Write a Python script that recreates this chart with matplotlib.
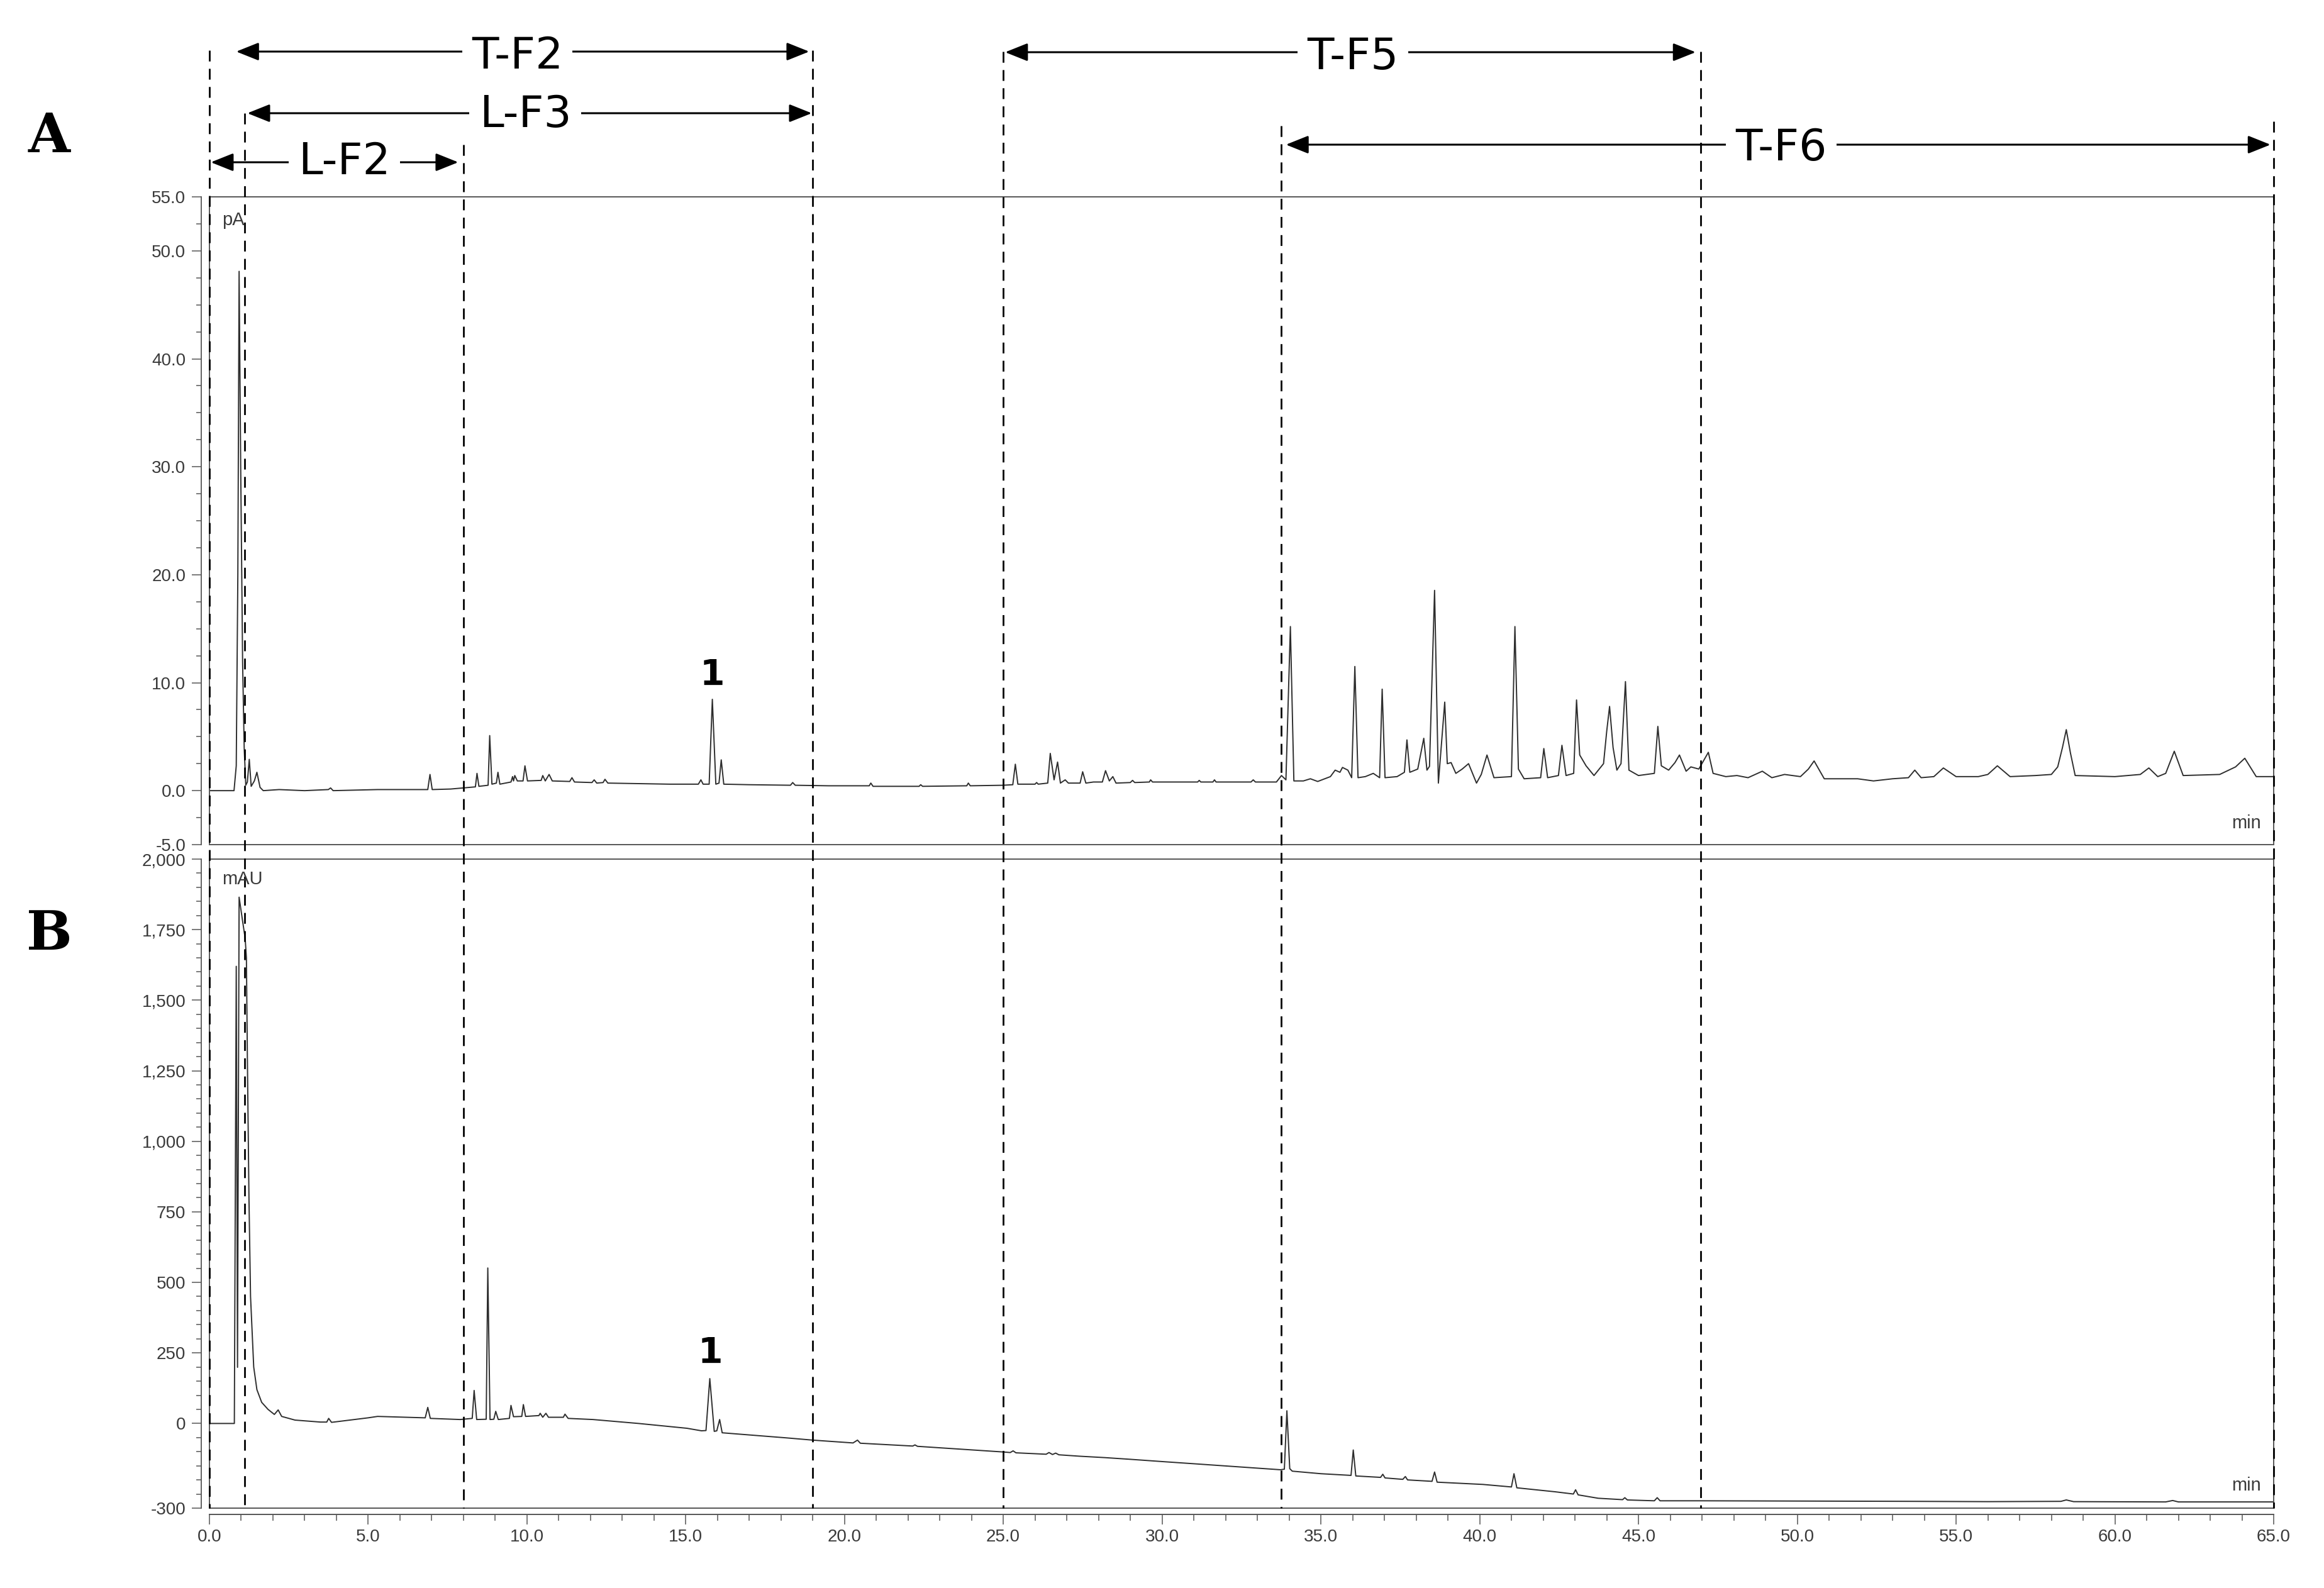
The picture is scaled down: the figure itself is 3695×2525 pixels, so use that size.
import matplotlib
matplotlib.use("Agg")
import matplotlib.pyplot as plt
from matplotlib import font_manager
from matplotlib.ticker import MultipleLocator, FixedLocator, FuncFormatter
from matplotlib.patches import Rectangle

# (retention time [min], response)
a_points = [
    (0.00, 0.0), (0.78, 0.0), (0.85, 2.3), (0.90, 20.0), (0.94, 48.1), (0.99, 30.0),
    (1.05, 11.9), (1.10, 4.0), (1.15, 0.5), (1.20, 0.8), (1.26, 2.9), (1.32, 0.4),
    (1.42, 0.9), (1.50, 1.7), (1.60, 0.3), (1.70, 0.0), (2.20, 0.1), (3.00, 0.0),
    (3.75, 0.1), (3.82, 0.25), (3.90, 0.0), (5.30, 0.1), (6.00, 0.1), (6.88, 0.1),
    (6.95, 1.5), (7.02, 0.1), (7.60, 0.15), (8.00, 0.25), (8.38, 0.35), (8.43, 1.6),
    (8.49, 0.4), (8.78, 0.5), (8.83, 5.1), (8.90, 0.6), (9.04, 0.7), (9.09, 1.7),
    (9.15, 0.6), (9.50, 0.8), (9.55, 1.3), (9.58, 0.9), (9.62, 1.4), (9.70, 0.9),
    (9.88, 0.9), (9.94, 2.3), (10.02, 0.9), (10.45, 0.95), (10.50, 1.4), (10.58, 0.9),
    (10.70, 1.5), (10.80, 0.9), (11.35, 0.85), (11.42, 1.2), (11.50, 0.8), (12.05, 0.75),
    (12.12, 1.0), (12.20, 0.7), (12.40, 0.75), (12.46, 1.05), (12.55, 0.7), (13.50, 0.65),
    (14.50, 0.6), (15.40, 0.6), (15.48, 1.0), (15.55, 0.6), (15.74, 0.6), (15.84, 8.46),
    (15.95, 0.6), (16.05, 0.7), (16.12, 2.85), (16.20, 0.6), (17.00, 0.55), (18.30, 0.5),
    (18.37, 0.75), (18.45, 0.5), (19.50, 0.45), (20.78, 0.45), (20.83, 0.7), (20.90, 0.4),
    (22.35, 0.4), (22.40, 0.55), (22.46, 0.4), (23.85, 0.45), (23.90, 0.7), (23.96, 0.45),
    (25.00, 0.5), (25.30, 0.55), (25.38, 2.45), (25.46, 0.6), (26.00, 0.6), (26.05, 0.75),
    (26.10, 0.6), (26.40, 0.7), (26.48, 3.45), (26.60, 1.0), (26.71, 2.65), (26.80, 0.7),
    (26.95, 1.0), (27.05, 0.7), (27.42, 0.7), (27.50, 1.75), (27.60, 0.7), (27.84, 0.8),
    (28.12, 0.8), (28.22, 1.85), (28.34, 0.9), (28.45, 1.3), (28.55, 0.7), (29.00, 0.75),
    (29.07, 0.95), (29.14, 0.75), (29.60, 0.8), (29.64, 1.0), (29.70, 0.8), (30.50, 0.8),
    (31.12, 0.8), (31.17, 0.95), (31.22, 0.8), (31.60, 0.8), (31.65, 1.0), (31.70, 0.8),
    (32.80, 0.8), (32.87, 1.0), (32.94, 0.8), (33.60, 0.8), (33.76, 1.4), (33.90, 1.0),
    (34.04, 15.2), (34.15, 0.9), (34.45, 0.9), (34.67, 1.1), (34.90, 0.85), (35.30, 1.3),
    (35.45, 1.9), (35.60, 1.7), (35.68, 2.15), (35.85, 1.9), (35.97, 1.2), (36.07, 11.5),
    (36.17, 1.2), (36.40, 1.3), (36.65, 1.6), (36.85, 1.2), (36.93, 9.4), (37.02, 1.2),
    (37.40, 1.3), (37.63, 1.7), (37.71, 4.7), (37.80, 1.7), (38.05, 2.0), (38.24, 4.85),
    (38.34, 1.9), (38.42, 2.25), (38.58, 18.55), (38.70, 0.7), (38.90, 8.2), (38.98, 2.5),
    (39.10, 2.6), (39.25, 1.6), (39.45, 2.0), (39.65, 2.5), (39.90, 0.7), (40.05, 1.5),
    (40.23, 3.3), (40.45, 1.2), (41.00, 1.3), (41.11, 15.2), (41.22, 2.0), (41.40, 1.1),
    (41.92, 1.2), (42.02, 3.9), (42.14, 1.2), (42.48, 1.4), (42.59, 4.2), (42.72, 1.4),
    (42.96, 1.6), (43.05, 8.4), (43.15, 3.3), (43.35, 2.3), (43.60, 1.4), (43.90, 2.5),
    (44.00, 5.5), (44.09, 7.8), (44.20, 4.0), (44.32, 1.9), (44.45, 2.5), (44.59, 10.1),
    (44.70, 1.9), (45.00, 1.4), (45.50, 1.6), (45.61, 5.95), (45.72, 2.3), (45.95, 1.9),
    (46.15, 2.6), (46.29, 3.3), (46.50, 1.8), (46.65, 2.2), (46.90, 2.0), (47.20, 3.55),
    (47.35, 1.6), (47.75, 1.3), (48.10, 1.4), (48.45, 1.2), (48.90, 1.8), (49.20, 1.2),
    (49.60, 1.5), (50.10, 1.3), (50.35, 2.0), (50.53, 2.75), (50.85, 1.1), (51.90, 1.1),
    (52.40, 0.9), (53.00, 1.1), (53.50, 1.2), (53.70, 1.9), (53.90, 1.2), (54.30, 1.3),
    (54.60, 2.1), (55.00, 1.3), (55.70, 1.3), (56.00, 1.5), (56.30, 2.3), (56.70, 1.3),
    (57.50, 1.4), (58.00, 1.5), (58.20, 2.2), (58.35, 4.0), (58.47, 5.65), (58.60, 3.5),
    (58.75, 1.4), (60.00, 1.3), (60.80, 1.5), (61.07, 2.1), (61.35, 1.3), (61.60, 1.6),
    (61.87, 3.65), (62.15, 1.4), (63.30, 1.5), (63.80, 2.2), (64.09, 3.0), (64.45, 1.3),
    (65.00, 1.3),
]

b_points = [
    (0.00, 0), (0.79, 0), (0.85, 1620), (0.89, 199), (0.94, 1865), (1.05, 1780),
    (1.13, 1720), (1.17, 1650), (1.20, 1300), (1.25, 800), (1.30, 450), (1.40, 200),
    (1.50, 120), (1.65, 75), (1.85, 50), (2.05, 32), (2.17, 48), (2.28, 25),
    (2.70, 12), (3.50, 5), (3.70, 5), (3.76, 18), (3.85, 4), (5.00, 20),
    (5.30, 25), (6.80, 20), (6.88, 57), (6.96, 18), (7.90, 14), (8.28, 18),
    (8.34, 117), (8.42, 14), (8.72, 15), (8.77, 551), (8.84, 14), (8.96, 15),
    (9.02, 43), (9.10, 14), (9.45, 18), (9.50, 64), (9.58, 24), (9.84, 25),
    (9.89, 67), (9.96, 25), (10.38, 28), (10.42, 36), (10.50, 22), (10.60, 36),
    (10.68, 22), (11.15, 22), (11.20, 33), (11.30, 18), (12.08, 14), (13.52, 0),
    (15.04, -17), (15.50, -26), (15.64, -25), (15.76, 159), (15.90, -28), (15.98, -26),
    (16.07, 14), (16.15, -33), (18.17, -51), (19.00, -59), (20.27, -69), (20.41, -59),
    (20.50, -70), (22.15, -80), (22.22, -76), (22.30, -81), (25.00, -101), (25.22, -103),
    (25.31, -97), (25.40, -104), (26.35, -109), (26.44, -103), (26.55, -110), (26.65, -105),
    (26.75, -111), (27.40, -116), (28.20, -121), (29.00, -127), (30.13, -136), (31.04, -143),
    (33.73, -164), (33.85, -162), (33.93, 45), (34.02, -160), (34.10, -169), (35.00, -178),
    (35.95, -184), (36.02, -94), (36.10, -186), (36.88, -191), (36.95, -180), (37.02, -193),
    (37.58, -198), (37.66, -188), (37.73, -200), (38.50, -205), (38.58, -172), (38.66, -208),
    (40.10, -216), (41.00, -225), (41.08, -178), (41.17, -228), (42.37, -242), (42.95, -250),
    (43.02, -235), (43.10, -253), (43.73, -265), (44.50, -270), (44.57, -263), (44.65, -271),
    (45.50, -274), (45.59, -263), (45.68, -274), (47.00, -274), (53.70, -276), (56.00, -277),
    (58.30, -276), (58.47, -271), (58.70, -277), (61.60, -278), (61.82, -273), (62.00, -278),
    (65.00, -278),
]

a_yticks = [-5, 0, 10, 20, 30, 40, 50, 55]
b_yticks = [-300, 0, 250, 500, 750, 1000, 1250, 1500, 1750, 2000]

# collected fractions (min)
frac_names = ["T-F2", "L-F3", "L-F2", "T-F5", "T-F6"]
frac_start = [0.85, 1.2, 0.05, 25.06, 33.9]
frac_end = [18.89, 18.97, 7.84, 46.8, 64.9]
cut_min = [0.0, 1.12, 8.0, 19.0, 25.0, 33.75, 46.95, 65.0]

# layout, in pixels of the 3695x2525 canvas
W, H = 3695, 2525
X0, X1 = 332.7, 3615.0
frac_row_y = [82, 180, 258, 83, 230]
frac_text_x = [9.7, 9.95, 4.25, 36.0, 49.5]
frac_text_base = [109, 202, 277, 110, 255]
cut_top = [80, 180, 230, 80, 82, 200, 82, 193]
cut_bottom = 2398

names = {f.name for f in font_manager.fontManager.ttflist}
tick_font = "Liberation Sans Narrow" if "Liberation Sans Narrow" in names else "Liberation Sans"
plt.rcParams["font.family"] = [tick_font, "DejaVu Sans"]

grey = "#555555"
trace_col = "#2e2e2e"

fig = plt.figure(figsize=(W / 100, H / 100), dpi=100)


def panel(top, bottom):
    return fig.add_axes([X0 / W, 1 - bottom / H, (X1 - X0) / W, (bottom - top) / H])


ax_a = panel(313, 1343)
ax_b = panel(1366, 2398)

for ax in (ax_a, ax_b):
    ax.set_xlim(0, 65)
    for side in ("top", "right", "bottom"):
        ax.spines[side].set_visible(False)
    ax.spines["left"].set_position(("outward", 9))
    ax.spines["left"].set_color(grey)
    ax.spines["left"].set_linewidth(1.3)
    ax.add_patch(Rectangle((0, 0), 1, 1, transform=ax.transAxes, fill=False,
                           ec=grey, lw=1.4, clip_on=False, zorder=3))
    ax.tick_params(axis="y", which="major", length=10.8, width=1.1, color=grey,
                   labelsize=20, labelcolor="#3a3a3a", pad=7)
    ax.tick_params(axis="y", which="minor", length=5.8, width=1.1, color=grey)

a_min, a_pa = zip(*a_points)
ax_a.plot(a_min, a_pa, color=trace_col, lw=1.4, zorder=2)
ax_a.set_ylim(-5, 55)
ax_a.yaxis.set_major_locator(FixedLocator(a_yticks))
ax_a.yaxis.set_minor_locator(MultipleLocator(2.5))
ax_a.yaxis.set_major_formatter(FuncFormatter(lambda v, p: f"{v:.1f}"))
ax_a.tick_params(axis="x", which="both", bottom=False, labelbottom=False)

b_min, b_mau = zip(*b_points)
ax_b.plot(b_min, b_mau, color=trace_col, lw=1.4, zorder=2)
ax_b.set_ylim(-300, 2000)
ax_b.yaxis.set_major_locator(FixedLocator(b_yticks))
ax_b.yaxis.set_minor_locator(MultipleLocator(50))
ax_b.yaxis.set_major_formatter(FuncFormatter(lambda v, p: f"{v:,.0f}"))
ax_b.spines["bottom"].set_visible(True)
ax_b.spines["bottom"].set_position(("outward", 7))
ax_b.spines["bottom"].set_color(grey)
ax_b.spines["bottom"].set_linewidth(1.4)
ax_b.xaxis.set_major_locator(MultipleLocator(5))
ax_b.xaxis.set_minor_locator(MultipleLocator(1))
ax_b.xaxis.set_major_formatter(FuncFormatter(lambda v, p: f"{v:.1f}"))
ax_b.tick_params(axis="x", which="major", length=11.5, width=1.1, color=grey,
                 labelsize=20, labelcolor="#3a3a3a", pad=5)
ax_b.tick_params(axis="x", which="minor", length=7, width=1.1, color=grey)

# overlay: minutes across, canvas pixels down
ov = fig.add_axes([X0 / W, 0, (X1 - X0) / W, 1], zorder=10)
ov.set_xlim(0, 65)
ov.set_ylim(H, 0)
ov.axis("off")

for x, top in zip(cut_min, cut_top):
    ov.plot([x, x], [top, cut_bottom], color="black", lw=2.0,
            dashes=(6.2, 4.2), clip_on=False)

for name, x_s, x_e, y, tx, tb in zip(frac_names, frac_start, frac_end,
                                     frac_row_y, frac_text_x, frac_text_base):
    ov.annotate("", xy=(x_e, y), xytext=(x_s, y), annotation_clip=False,
                arrowprops=dict(arrowstyle="<|-|>,head_length=0.55,head_width=0.22",
                                mutation_scale=40, color="black", lw=2.2,
                                shrinkA=0, shrinkB=0))
    ov.text(tx, tb, name, ha="center", va="baseline", fontsize=50,
            family="DejaVu Sans", color="black", zorder=12,
            bbox=dict(boxstyle="square,pad=0.22", fc="white", ec="none"))

unit_style = dict(fontsize=21, color="#3a3a3a", family="Liberation Sans",
                  va="center", ha="left")
ov.text(0.4, 350, "pA", **unit_style)
ov.text(0.4, 1398, "mAU", **unit_style)
ov.text(64.6, 1309, "min", fontsize=21, color="#3a3a3a", family=tick_font,
        va="center", ha="right")
ov.text(64.6, 2362, "min", fontsize=21, color="#3a3a3a", family=tick_font,
        va="center", ha="right")

# compound 1 labels
ov.text(15.84, 1090, "1", ha="center", va="baseline", fontsize=41,
        fontweight="bold", family="DejaVu Sans")
ov.text(15.78, 2168, "1", ha="center", va="baseline", fontsize=41,
        fontweight="bold", family="DejaVu Sans")

fig.text(78 / W, 1 - 242 / H, "A", ha="center", va="baseline", fontsize=62,
         fontweight="bold", family="DejaVu Serif")
fig.text(78 / W, 1 - 1510 / H, "B", ha="center", va="baseline", fontsize=62,
         fontweight="bold", family="DejaVu Serif")

fig.savefig("out.png", dpi=100, facecolor="white")
